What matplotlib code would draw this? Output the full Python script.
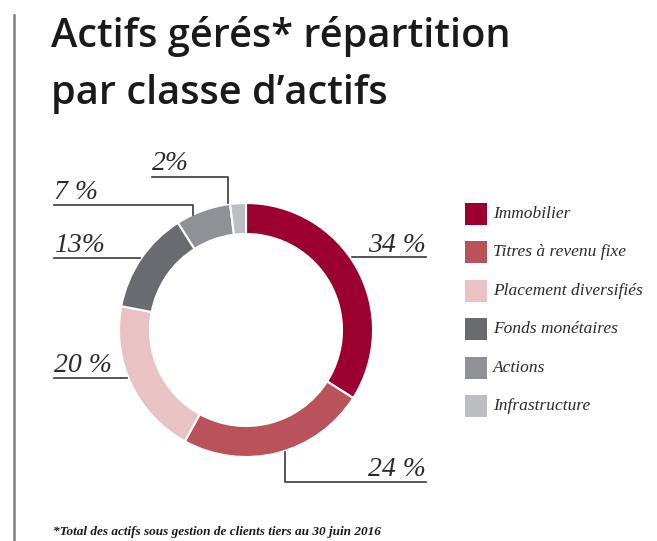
import matplotlib.pyplot as plt
from matplotlib.patches import Rectangle

categories = ['Immobilier', 'Titres à revenu fixe', 'Placement diversifiés',
              'Fonds monétaires', 'Actions', 'Infrastructure']
values = [34, 24, 20, 13, 7, 2]
labels = ['34 %', '24 %', '20 %', '13%', '7 %', '2%']
colors = ['#9c0031', '#b9525b', '#e9c3c3', '#6a6b70', '#909196', '#bdbec3']

W, H = 657, 541
fig = plt.figure(figsize=(W / 100, H / 100), dpi=100)
ax = fig.add_axes([0, 0, 1, 1])

def Y(y):
    # pixel row from top -> data y
    return H - y

# donut
cx, cy, r = 246, Y(330), 127
ax.pie(values, colors=colors, startangle=90, counterclock=False,
       center=(cx, cy), radius=r, frame=True,
       wedgeprops=dict(width=31, edgecolor='white', linewidth=1.5))
ax.set_xlim(0, W)
ax.set_ylim(0, H)
ax.set_aspect('equal')
ax.axis('off')

# left rule
ax.plot([14, 14], [Y(15), Y(541)], color='#808080', lw=1.8)

# title
title_font = dict(family='Open Sans', weight='semibold', fontsize=28.6, color='#1a1a1a')
ax.text(51, Y(47), 'Actifs gérés* répartition', va='baseline', **title_font)
ax.text(51, Y(104), 'par classe d\u2019actifs', va='baseline', **title_font)

# leader lines + labels (layout positions)
lab_font = dict(family='Liberation Serif', style='italic', fontsize=20, color='#2a2a2a')
lc = dict(color='#3a3a3a', lw=1.2)
# 34 %
ax.plot([352, 426], [Y(257), Y(257)], **lc)
ax.text(426, Y(252), labels[0], ha='right', va='baseline', **lab_font)
# 24 %
ax.plot([285, 285, 426], [Y(452), Y(482), Y(482)], **lc)
ax.text(426, Y(476), labels[1], ha='right', va='baseline', **lab_font)
# 20 %
ax.plot([54, 127], [Y(378), Y(378)], **lc)
ax.text(54, Y(372), labels[2], ha='left', va='baseline', **lab_font)
# 13%
ax.plot([54, 140], [Y(258), Y(258)], **lc)
ax.text(54, Y(252), labels[3], ha='left', va='baseline', **lab_font)
# 7 %
ax.plot([54, 193, 193], [Y(205), Y(205), Y(215)], **lc)
ax.text(54, Y(199), labels[4], ha='left', va='baseline', **lab_font)
# 2%
ax.plot([152, 228, 228], [Y(177), Y(177), Y(203)], **lc)
ax.text(152, Y(170), labels[5], ha='left', va='baseline', **lab_font)

# legend
leg_font = dict(family='Liberation Serif', style='italic', fontsize=12.5, color='#2a2a2a')
for i, (cat, col) in enumerate(zip(categories, colors)):
    yc = 214 + i * 38.4
    ax.add_patch(Rectangle((465, Y(yc + 11)), 22, 22, facecolor=col, edgecolor='none'))
    ax.text(493, Y(yc), cat, va='center', ha='left', **leg_font)

# footnote
ax.text(53, Y(535), '*Total des actifs sous gestion de clients tiers au 30 juin 2016',
        family='Liberation Serif', style='italic', weight='bold', fontsize=9.5,
        color='#1a1a1a', va='baseline')

fig.savefig('out.png', dpi=100)
